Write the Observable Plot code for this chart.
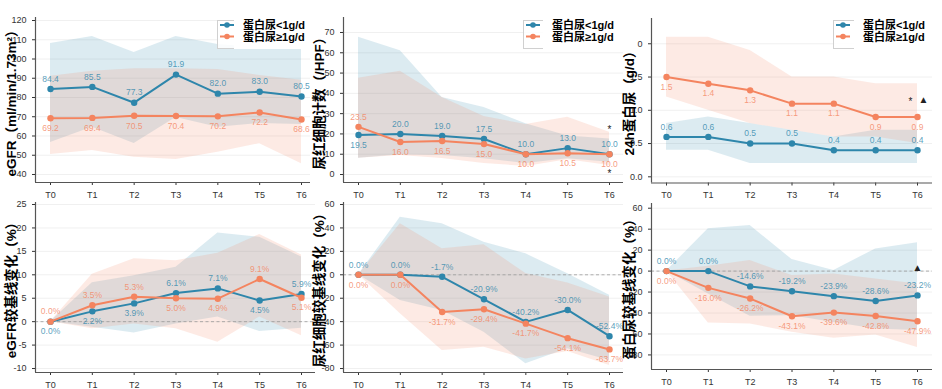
<!DOCTYPE html>
<html><head><meta charset="utf-8">
<script src="https://cdn.jsdelivr.net/npm/d3@7"></script>
<script src="https://cdn.jsdelivr.net/npm/@observablehq/plot@0.6"></script>
<style>
body{margin:0;background:#fff;}
#wrap{position:relative;width:942px;height:389px;overflow:hidden;background:#fff;}
.panel{position:absolute;}
.panel svg{overflow:visible;}
.ytitle{position:absolute;transform:translate(-50%,-50%) rotate(-90deg);white-space:nowrap;font-family:"Liberation Sans","Noto Sans CJK SC",sans-serif;font-weight:bold;font-size:13.5px;color:#000;}
.legbox{position:absolute;border:1px solid #d0d0d0;background:rgba(255,255,255,0.85);box-sizing:border-box;}
.legbg{position:absolute;background:#fff;}
.legsvg{position:absolute;overflow:visible;}
</style></head>
<body><div id="wrap"></div>
<script>
// ---------------- DATA ----------------
const timepoints = ["T0","T1","T2","T3","T4","T5","T6"];
const seriesNames = ["蛋白尿<1g/d","蛋白尿≥1g/d"];

const titles = ["eGFR（ml/min/1.73m²）","尿红细胞计数（/HPF）","24h蛋白尿（g/d）",
                "eGFR较基线变化（%）","尿红细胞较基线变化（%）","蛋白尿较基线变化（%）"];

// Panel 1: eGFR
const egfrLow       = [84.4,85.5,77.3,91.9,82.0,83.0,80.5];
const egfrHigh      = [69.2,69.4,70.5,70.4,70.2,72.2,68.6];
const egfrLowUpper  = [108,111.7,103.4,111.7,107.5,106,105.5];
const egfrLowLower  = [56.6,64.5,56.1,69.6,64.5,66.5,66];
const egfrHighUpper = [91,93.7,95,95,94.5,91.4,89];
const egfrHighLower = [50.4,52.5,49,47.8,51.5,56,45.6];
const egfrTicks = [40,50,60,70,80,90,100,110,120];
const egfrTickLabels = ["40","50","60","70","80","90","100","110","120"];

// Panel 2: urine RBC count
const rbcLow       = [19.5,20.0,19.0,17.5,10.0,13.0,10.0];
const rbcHigh      = [23.5,16.0,16.5,15.0,10.0,10.5,10.0];
const rbcLowUpper  = [67.6,61,38,33,25,19,17.5];
const rbcLowLower  = [8,9.8,9.4,7.8,5.4,7.8,6];
const rbcHighUpper = [47.4,50.9,38,28.6,24.6,28.2,20.8];
const rbcHighLower = [8,9.4,7.9,5.4,4,7.3,4.4];
const rbcTicks = [0,10,20,30,40,50,60,70];
const rbcTickLabels = ["0","10","20","30","40","50","60","70"];
const rbcMarks = [{t:6, v:22, s:"*"}, {t:6, v:0.3, s:"*"}];

// Panel 3: 24h proteinuria
const protLow       = [0.6,0.6,0.5,0.5,0.4,0.4,0.4];
const protHigh      = [1.5,1.4,1.3,1.1,1.1,0.9,0.9];
const protLowUpper  = [0.8,0.9,0.8,0.7,0.6,0.7,0.7];
const protLowLower  = [0.4,0.4,0.2,0.2,0.2,0.2,0.2];
const protHighUpper = [2.1,2.1,1.9,1.5,1.5,1.4,1.4];
const protHighLower = [1.2,1.0,0.8,0.7,0.6,0.6,0.5];
const protTicks = [0,0.5,1.0,1.5,2.0];
const protTickLabels = ["0.0","0.5","1.0","1.5","0"];
const protMarks = [{t:6, v:1.13, s:"*", side:-1}, {t:6, v:1.16, s:"▲", side:1}];

// Panel 4: eGFR change from baseline (%)
const egfrChLow       = [0,2.2,3.9,6.1,7.1,4.5,5.9];
const egfrChHigh      = [0,3.5,5.3,5.0,4.9,9.1,5.1];
const egfrChLowUpper  = [0,8.3,9.8,11.6,18.9,18.0,13.8];
const egfrChLowLower  = [0,-1.2,-2.4,-0.5,1.0,-2.1,-1.4];
const egfrChHighUpper = [0,10.1,13.4,13.0,14.6,18.6,14.2];
const egfrChHighLower = [0,-1.5,-0.5,-1.5,-4.4,1.0,-3.0];
const egfrChTicks = [-10,-5,0,5,10,15,20,25];
const egfrChTickLabels = ["-10","-5","0","5","10","15","20","25"];

// Panel 5: RBC change from baseline (%)
const rbcChLow       = [0,0,-1.7,-20.9,-40.2,-30.0,-52.4];
const rbcChHigh      = [0,0,-31.7,-29.4,-41.7,-54.1,-63.7];
const rbcChLowUpper  = [0,49.2,43.5,27.8,17.9,0.8,-17.5];
const rbcChLowLower  = [0,-22,-30.5,-49,-76,-63.2,-73.2];
const rbcChHighUpper = [0,43.5,22.2,25.6,1,-7,-19];
const rbcChHighLower = [0,-33.3,-64.6,-61.8,-71.8,-65.5,-77.4];
const pctTicks = [-80,-60,-40,-20,0,20,40,60];
const pctTickLabels = ["-80","-60","-40","-20","0","20","40","60"];

// Panel 6: proteinuria change from baseline (%)
const protChLow       = [0,0,-14.6,-19.2,-23.9,-28.6,-23.2];
const protChHigh      = [0,-16.0,-26.2,-43.1,-39.6,-42.8,-47.9];
const protChLowUpper  = [0,40.3,43.5,11,0.5,21.2,27];
const protChLowLower  = [0,-21.8,-43.1,-42.5,-49,-55.2,-56.8];
const protChHighUpper = [0,4.6,10,-4.3,-2.7,-7.5,-12.3];
const protChHighLower = [0,-49.5,-50.4,-58.4,-64.1,-61,-72.8];
const protChMarks = [{t:6, v:3, s:"▲"}];

// ---------------- STYLE / LAYOUT ----------------
const BLUE = "#2e86ab", ORANGE = "#f4845f";
const TSTEP = 251/6; // px between timepoints
const panels = [
  {low:egfrLow, high:egfrHigh, lu:egfrLowUpper, ll:egfrLowLower, hu:egfrHighUpper, hl:egfrHighLower,
   ticks:egfrTicks, labels:egfrTickLabels, dom:[35.84,121.56], fmt:d=>d.toFixed(1), mode:"out", tieBlueUp:true,
   left:0, top:0, w:320, h:195, ml:35, mr:10, mt:17, mb:13, legend:[217,26], title:10, zero:false, marks:[]},
  {low:rbcLow, high:rbcHigh, lu:rbcLowUpper, ll:rbcLowLower, hu:rbcHighUpper, hl:rbcHighLower,
   ticks:rbcTicks, labels:rbcTickLabels, dom:[-3.94,77.39], fmt:d=>d.toFixed(1), mode:"out", tieBlueUp:true,
   left:310, top:0, w:320, h:195, ml:33, mr:7, mt:17, mb:13, legend:[213,29], title:318, zero:false, marks:rbcMarks},
  {low:protLow, high:protHigh, lu:protLowUpper, ll:protLowLower, hu:protHighUpper, hl:protHighLower,
   ticks:protTicks, labels:protTickLabels, dom:[-0.093,2.38], fmt:d=>d.toFixed(1), mode:"in", tieBlueUp:true,
   left:620, top:0, w:322, h:195, ml:31, mr:10, mt:18, mb:12.5, legend:[213,30], title:628, zero:false, marks:protMarks},
  {low:egfrChLow, high:egfrChHigh, lu:egfrChLowUpper, ll:egfrChLowLower, hu:egfrChHighUpper, hl:egfrChHighLower,
   ticks:egfrChTicks, labels:egfrChTickLabels, dom:[-10.85,25.43], fmt:d=>d.toFixed(1)+"%", mode:"out", tieBlueUp:false,
   left:0, top:195, w:320, h:194, ml:35, mr:5, mt:7, mb:17, legend:null, title:10, zero:true, marks:[]},
  {low:rbcChLow, high:rbcChHigh, lu:rbcChLowUpper, ll:rbcChLowLower, hu:rbcChHighUpper, hl:rbcChHighLower,
   ticks:pctTicks, labels:pctTickLabels, dom:[-83.4,61.7], fmt:d=>d.toFixed(1)+"%", mode:"out", tieBlueUp:true,
   left:310, top:195, w:320, h:194, ml:33, mr:7, mt:7, mb:17, legend:null, title:318, zero:true, marks:[]},
  {low:protChLow, high:protChHigh, lu:protChLowUpper, ll:protChLowLower, hu:protChHighUpper, hl:protChHighLower,
   ticks:pctTicks, labels:pctTickLabels, dom:[-93.9,64.5], fmt:d=>d.toFixed(1)+"%", mode:"out", tieBlueUp:true,
   left:620, top:195, w:322, h:194, ml:31, mr:10, mt:8, mb:20, legend:null, title:628, zero:true, marks:protChMarks}
];

const wrap = document.getElementById("wrap");

panels.forEach((p, k) => {
  const pw = p.w - p.ml - p.mr;
  const x0 = -15 / TSTEP, x1 = x0 + pw / TSTEP;
  const rows = timepoints.map((t, i) => {
    const lo = p.low[i], hi = p.high[i];
    let blueUp = lo > hi || (lo === hi && p.tieBlueUp);
    if (p.mode === "in") blueUp = !blueUp;
    return {i, t, lo, hi, lu:p.lu[i], ll:p.ll[i], hu:p.hu[i], hl:p.hl[i], blueUp};
  });
  const marks = [
    Plot.ruleY(p.ticks, {stroke:"#f0f0f0", strokeWidth:1}),
    Plot.areaY(rows, {x:"i", y1:"ll", y2:"lu", fill:BLUE, fillOpacity:0.17}),
    Plot.areaY(rows, {x:"i", y1:"hl", y2:"hu", fill:ORANGE, fillOpacity:0.17}),
  ];
  if (p.zero) marks.push(Plot.ruleY([0], {stroke:"#9a9a9a", strokeWidth:0.8, strokeDasharray:"3,2.5"}));
  marks.push(
    Plot.line(rows, {x:"i", y:"lo", stroke:BLUE, strokeWidth:2}),
    Plot.dot(rows, {x:"i", y:"lo", fill:BLUE, r:3.2}),
    Plot.line(rows, {x:"i", y:"hi", stroke:ORANGE, strokeWidth:2}),
    Plot.dot(rows, {x:"i", y:"hi", fill:ORANGE, r:3.2}),
    Plot.text(rows.filter(d=>d.blueUp), {x:"i", y:"lo", text:d=>p.fmt(d.lo), dy:-10, fill:BLUE, fillOpacity:0.8, fontSize:8.5}),
    Plot.text(rows.filter(d=>!d.blueUp), {x:"i", y:"lo", text:d=>p.fmt(d.lo), dy:10, fill:BLUE, fillOpacity:0.8, fontSize:8.5}),
    Plot.text(rows.filter(d=>!d.blueUp), {x:"i", y:"hi", text:d=>p.fmt(d.hi), dy:-10, fill:ORANGE, fillOpacity:0.8, fontSize:8.5}),
    Plot.text(rows.filter(d=>d.blueUp), {x:"i", y:"hi", text:d=>p.fmt(d.hi), dy:10, fill:ORANGE, fillOpacity:0.8, fontSize:8.5}),
    Plot.ruleX([x0], {stroke:"#555", strokeWidth:1.2}),
    Plot.ruleY([p.dom[0]], {stroke:"#555", strokeWidth:1.2})
  );
  const left = p.marks.filter(m => m.side === -1), right = p.marks.filter(m => m.side === 1), mid = p.marks.filter(m => !m.side);
  marks.push(
    Plot.text(mid, {x:"t", y:"v", text:"s", fill:"#222", fontSize:10}),
    Plot.text(left, {x:"t", y:"v", text:"s", fill:"#222", fontSize:10, dx:-7}),
    Plot.text(right, {x:"t", y:"v", text:"s", fill:"#222", fontSize:10, dx:6})
  );
  const svg = Plot.plot({
    width:p.w, height:p.h,
    marginLeft:p.ml, marginRight:p.mr, marginTop:p.mt, marginBottom:p.mb,
    style:{fontSize:"9px", fontFamily:"'Liberation Sans', Arial, sans-serif", color:"#333", background:"transparent", overflow:"visible"},
    x:{domain:[x0, x1], ticks:d3.range(7), tickFormat:i => timepoints[i], tickSize:3, label:null},
    y:{domain:p.dom, ticks:p.ticks, tickFormat:v => p.labels[p.ticks.indexOf(v)], tickSize:3, label:null},
    marks
  });
  const div = document.createElement("div");
  div.className = "panel";
  div.style.left = p.left + "px"; div.style.top = p.top + "px";
  div.appendChild(svg);
  wrap.appendChild(div);

  // y title
  const t = document.createElement("div");
  t.className = "ytitle";
  t.textContent = titles[k];
  t.style.left = p.title + "px";
  t.style.top = (p.top + p.mt + (p.h - p.mt - p.mb) / 2) + "px";
  wrap.appendChild(t);

  // legend
  if (p.legend) {
    const bx = p.left + p.legend[0], by = 20;
    const tx = p.left + p.legend[0] + p.legend[1];
    const box = document.createElement("div");
    box.className = "legbox";
    box.style.left = bx + "px"; box.style.top = by + "px";
    box.style.width = (p.left + p.w - bx) + "px"; box.style.height = "29px";
    wrap.appendChild(box);
    const bg = document.createElement("div");
    bg.className = "legbg";
    bg.style.left = (tx - 9) + "px"; bg.style.top = (by - 3) + "px";
    bg.style.width = (p.left + p.w - tx + 9) + "px"; bg.style.height = "32px";
    wrap.appendChild(bg);
    const lsvg = document.createElementNS("http://www.w3.org/2000/svg", "svg");
    lsvg.setAttribute("width", p.left + p.w - bx); lsvg.setAttribute("height", 30);
    lsvg.setAttribute("class", "legsvg");
    lsvg.style.left = bx + "px"; lsvg.style.top = by + "px";
    let html = "";
    [BLUE, ORANGE].forEach((c, j) => {
      const yy = 5 + j * 11.5;
      html += `<line x1="3" x2="17" y1="${yy}" y2="${yy}" stroke="${c}" stroke-width="2"/><circle cx="10" cy="${yy}" r="2.8" fill="${c}"/>`;
    });
    seriesNames.forEach((name, j) => {
      html += `<text x="${tx - bx}" y="${8.5 + j * 12.5}" font-family="'Liberation Sans', 'Noto Sans CJK SC', sans-serif" font-weight="bold" font-size="11" fill="#000">${name.replace("<","&lt;")}</text>`;
    });
    lsvg.innerHTML = html;
    wrap.appendChild(lsvg);
  }
});
</script>
</body></html>
